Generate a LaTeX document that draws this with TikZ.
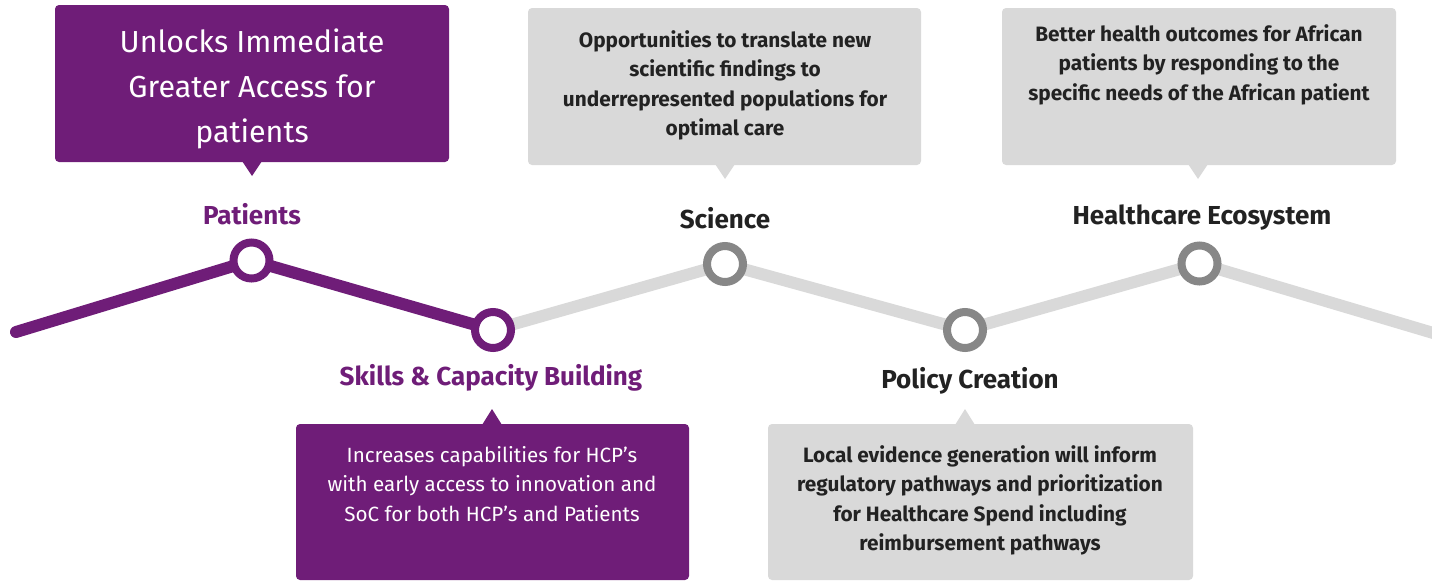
\documentclass[tikz,border=0pt]{standalone}
\usepackage{fontspec}
\setmainfont{Fira Sans}
\definecolor{purp}{HTML}{6F1D78}
\definecolor{lgray}{HTML}{D9D9D9}
\definecolor{ring}{HTML}{878787}
\definecolor{dark}{HTML}{222222}
\begin{document}
\begin{tikzpicture}[x=1pt,y=-1pt,
  dot/.style={circle,draw,line width=8pt,fill=white,minimum size=36pt,inner sep=0pt},
  pdot/.style={dot,draw=purp},
  gdot/.style={dot,draw=ring},
  boxshape/.style={rounded corners=4pt,inner sep=0pt,minimum height=157pt},
  pbox/.style={boxshape,fill=purp},
  gbox/.style={boxshape,fill=lgray},
  ptext/.style={text=white,align=center,inner sep=0pt,font=\fontsize{20.6}{29.5}\selectfont},
  gtext/.style={text=dark,align=center,inner sep=0pt,font=\bfseries\fontsize{20.8}{29.5}\selectfont},
  lab/.style={font=\bfseries\fontsize{26}{28}\selectfont,inner sep=0pt},
  track/.style={line width=12pt,line cap=round},
]
\useasboundingbox (0,0) rectangle (1432,581);
\clip (0,0) rectangle (1432,581);

% track points
\coordinate (start) at (16,332);
\coordinate (p1) at (251.5,260.5);
\coordinate (p2) at (493,330);
\coordinate (p3) at (725,264);
\coordinate (p4) at (965,330);
\coordinate (p5) at (1199.5,263.5);
\coordinate (stop) at (1450,338);

\draw[track,lgray,line cap=butt] (p2) -- (p3) -- (p4) -- (p5) -- (stop);
\draw[track,purp,line join=round] (start) -- (p1) -- (p2);

\node[pdot] (c1) at (p1) {};
\node[pdot] (c2) at (p2) {};
\node[gdot] (c3) at (p3) {};
\node[gdot] (c4) at (p4) {};
\node[gdot] (c5) at (p5) {};

% labels
\node[lab,text=purp] (l1) at (252,214) {Patients};
\node[lab,text=purp] (l2) at (491,378) {Skills \& Capacity Building};
\node[lab,text=dark] (l3) at (725,218) {Science};
\node[lab,text=dark] (l4) at (970,381) {Policy Creation};
\node[lab,text=dark] (l5) at (1202,218) {Healthcare Ecosystem};

% boxes
\node[pbox,minimum width=394pt] (b1) at (252,83.5) {};
\fill[purp] (242,161) -- (262,161) -- (252,176) -- cycle;
\node[ptext,font=\fontsize{30.4}{45}\selectfont] (t1) at (252,88.5) {Unlocks Immediate\\Greater Access for\\patients};

\node[gbox,minimum width=393pt] (b3) at (724.5,86.5) {};
\fill[lgray] (715,164) -- (735,164) -- (725,179) -- cycle;
\node[gtext] (t3) at (725,85.5) {Opportunities to translate new\\scientific findings to\\underrepresented populations for\\optimal care};

\node[gbox,minimum width=394pt] (b5) at (1199,86.5) {};
\fill[lgray] (1188,164) -- (1208,164) -- (1198,179) -- cycle;
\node[gtext] (t5) at (1199,64.5) {Better health outcomes for African\\patients by responding to the\\specific needs of the African patient};

\node[pbox,minimum width=393pt,minimum height=156pt] (b2) at (492.5,502) {};
\fill[purp] (482,425) -- (502,425) -- (492,409) -- cycle;
\node[ptext] (t2) at (492,484) {Increases capabilities for HCP’s\\with early access to innovation and\\SoC for both HCP’s and Patients};

\node[gbox,minimum width=425pt,minimum height=156pt] (b4) at (980.5,502) {};
\fill[lgray] (955,425) -- (975,425) -- (965,409) -- cycle;
\node[gtext] (t4) at (980,500.5) {Local evidence generation will inform\\regulatory pathways and prioritization\\for Healthcare Spend including\\reimbursement pathways};
\end{tikzpicture}
\end{document}
